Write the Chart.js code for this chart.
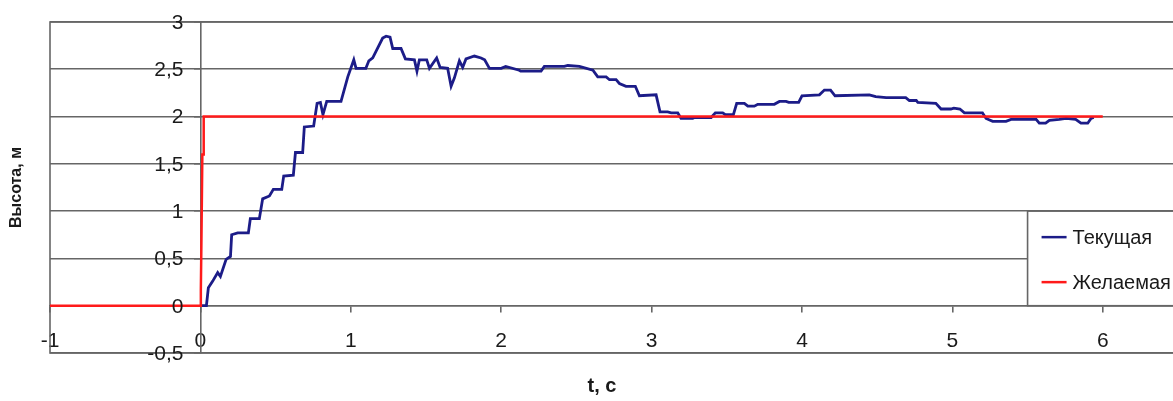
<!DOCTYPE html>
<html>
<head>
<meta charset="utf-8">
<script src="https://cdn.jsdelivr.net/npm/chart.js@4.4.0/dist/chart.umd.min.js"></script>
<style>
  html, body { margin: 0; padding: 0; background: #fff; overflow: hidden; }
  #wrap { width: 1276px; height: 401px; }
</style>
</head>
<body>
<div id="wrap"><canvas id="vysota" width="1276" height="401"></canvas></div>
<script>
// Текущая высота
var t_tekushaya = [0.01, 0.04, 0.053, 0.082, 0.115, 0.133, 0.171, 0.2, 0.208, 0.248, 0.319, 0.332, 0.392, 0.414, 0.459, 0.485, 0.541, 0.554, 0.618, 0.632, 0.68, 0.691, 0.753, 0.776, 0.798, 0.815, 0.84, 0.935, 0.98, 1.02, 1.035, 1.1, 1.12, 1.146, 1.212, 1.235, 1.261, 1.279, 1.334, 1.363, 1.423, 1.44, 1.456, 1.505, 1.523, 1.571, 1.594, 1.644, 1.667, 1.689, 1.722, 1.744, 1.766, 1.822, 1.866, 1.89, 1.922, 2.0, 2.03, 2.12, 2.13, 2.265, 2.287, 2.42, 2.443, 2.52, 2.61, 2.642, 2.698, 2.72, 2.764, 2.786, 2.83, 2.892, 2.919, 3.03, 3.056, 3.107, 3.13, 3.174, 3.196, 3.273, 3.285, 3.396, 3.424, 3.473, 3.49, 3.544, 3.566, 3.617, 3.64, 3.683, 3.706, 3.816, 3.85, 3.894, 3.912, 3.978, 4.0, 4.116, 4.149, 4.19, 4.22, 4.448, 4.49, 4.56, 4.69, 4.714, 4.76, 4.77, 4.89, 4.925, 4.99, 5.01, 5.05, 5.08, 5.2, 5.224, 5.268, 5.357, 5.39, 5.557, 5.578, 5.62, 5.645, 5.711, 5.756, 5.82, 5.855, 5.9, 5.922, 5.94]
var h_tekushaya = [0, 0, 0.19, 0.26, 0.35, 0.31, 0.49, 0.52, 0.75, 0.77, 0.77, 0.92, 0.92, 1.13, 1.16, 1.23, 1.23, 1.37, 1.38, 1.62, 1.62, 1.89, 1.9, 2.14, 2.15, 2.02, 2.16, 2.16, 2.42, 2.6, 2.51, 2.51, 2.59, 2.62, 2.83, 2.85, 2.84, 2.72, 2.72, 2.61, 2.6, 2.48, 2.6, 2.6, 2.51, 2.62, 2.52, 2.51, 2.32, 2.41, 2.59, 2.52, 2.61, 2.64, 2.62, 2.6, 2.51, 2.51, 2.53, 2.49, 2.48, 2.48, 2.53, 2.53, 2.54, 2.53, 2.49, 2.42, 2.42, 2.39, 2.39, 2.35, 2.32, 2.32, 2.22, 2.23, 2.05, 2.05, 2.04, 2.04, 1.98, 1.98, 1.99, 1.99, 2.04, 2.04, 2.02, 2.02, 2.14, 2.14, 2.11, 2.11, 2.13, 2.13, 2.16, 2.16, 2.15, 2.15, 2.22, 2.23, 2.28, 2.28, 2.22, 2.23, 2.21, 2.2, 2.2, 2.17, 2.17, 2.15, 2.14, 2.08, 2.08, 2.09, 2.08, 2.04, 2.04, 1.98, 1.95, 1.95, 1.97, 1.97, 1.93, 1.93, 1.96, 1.97, 1.98, 1.97, 1.93, 1.93, 1.98, 1.99]

// Желаемая высота
var t_zhelaemaya = [-1, 0, 0.003, 0.007, 0.01, 0.013, 0.018, 0.022, 6]
var h_zhelaemaya = [0, 0, 0.17, 0.7, 0.7, 1.6, 1.6, 2, 2]

var x_ticks = [-1, 0, 1, 2, 3, 4, 5, 6, 7]
var y_ticks = [-0.5, 0, 0.5, 1, 1.5, 2, 2.5, 3]
var nazvaniya = ['Текущая', 'Желаемая']
var cveta = ['#1c1c88', '#ff1a1a']

function tochki(tt, hh){
    var res = []
    for(let i = 0; i < tt.length; i++){
        res.push({x: tt[i], y: hh[i]})
    }
    return res
}

Chart.defaults.font.family = '"Liberation Sans", Arial, sans-serif';
Chart.defaults.color = '#1a1a1a';

const oformlenie = {
    id: 'oformlenie',
    beforeDatasetsDraw(chart){
        const {ctx, chartArea: a} = chart;
        ctx.save();
        ctx.strokeStyle = '#666';
        ctx.lineWidth = 1.6;
        ctx.strokeRect(a.left, a.top, a.right - a.left, a.bottom - a.top);
        ctx.restore();
    },
    afterDraw(chart){
        const {ctx, chartArea: a} = chart;
        const xs = chart.scales.x, ys = chart.scales.y;
        ctx.save();

        // подписи оси Y слева от оси (при position: {x: 0} отступ не работает)
        const x0 = xs.getPixelForValue(0);
        ctx.font = '21px "Liberation Sans", Arial, sans-serif';
        ctx.fillStyle = '#1a1a1a';
        ctx.textAlign = 'right';
        ctx.textBaseline = 'middle';
        y_ticks.forEach(function(v){
            ctx.fillText(String(v).replace('.', ','), x0 - 17, ys.getPixelForValue(v) + 1);
        });

        // легенда
        const l = xs.getPixelForValue(5.5), t = ys.getPixelForValue(1), b = ys.getPixelForValue(0);
        ctx.fillStyle = '#fff';
        ctx.fillRect(l, t, a.right - l, b - t);
        ctx.strokeStyle = '#666';
        ctx.lineWidth = 1.6;
        ctx.strokeRect(l, t, a.right - l, b - t);
        const rows = [t + 26, t + 71];
        ctx.font = '20px "Liberation Sans", Arial, sans-serif';
        ctx.textAlign = 'left';
        for(let i = 0; i < nazvaniya.length; i++){
            ctx.strokeStyle = cveta[i];
            ctx.lineWidth = 2.5;
            ctx.beginPath();
            ctx.moveTo(l + 14, rows[i]);
            ctx.lineTo(l + 39, rows[i]);
            ctx.stroke();
            ctx.fillStyle = '#1a1a1a';
            ctx.fillText(nazvaniya[i], l + 45, rows[i] + 1);
        }

        // подписи осей
        ctx.fillStyle = '#1a1a1a';
        ctx.textAlign = 'center';
        ctx.font = 'bold 20px "Liberation Sans", Arial, sans-serif';
        ctx.fillText('t, c', 602, 386);
        ctx.translate(17, (a.top + a.bottom) / 2);
        ctx.rotate(-Math.PI / 2);
        ctx.font = 'bold 16px "Liberation Sans", Arial, sans-serif';
        ctx.fillText('Высота, м', 0, 0);
        ctx.restore();
    }
};

const ctx = document.getElementById('vysota').getContext('2d');
const myChart = new Chart(ctx, {
    type: 'line',
    data: {
        datasets: [{
            label: nazvaniya[1],
            data: tochki(t_zhelaemaya, h_zhelaemaya),
            borderColor: cveta[1],
            borderWidth: 2.5,
            pointRadius: 0,
            tension: 0,
            fill: false
        }, {
            label: nazvaniya[0],
            data: tochki(t_tekushaya, h_tekushaya),
            borderColor: cveta[0],
            borderWidth: 2.8,
            pointRadius: 0,
            tension: 0,
            fill: false
        }]
    },
    options: {
        responsive: false,
        animation: false,
        events: [],
        layout: {
            padding: {left: 50, top: 22, right: 6, bottom: 48}
        },
        plugins: {
            legend: {display: false},
            tooltip: {enabled: false}
        },
        scales: {
            x: {
                type: 'linear',
                min: -1,
                max: 7,
                position: {y: 0},
                afterBuildTicks: function(scale){
                    scale.ticks = x_ticks.map(v => ({value: v}))
                },
                grid: {
                    drawOnChartArea: false,
                    drawTicks: true,
                    tickLength: 6,
                    color: '#666',
                    lineWidth: 1.6
                },
                border: {display: true, color: '#666', width: 1.6},
                ticks: {
                    font: {size: 21},
                    padding: 17,
                    maxRotation: 0,
                    autoSkip: false
                }
            },
            y: {
                type: 'linear',
                min: -0.5,
                max: 3,
                position: {x: 0},
                afterBuildTicks: function(scale){
                    scale.ticks = y_ticks.map(v => ({value: v}))
                },
                grid: {
                    drawOnChartArea: true,
                    drawTicks: true,
                    tickLength: 6,
                    color: '#666',
                    lineWidth: 1.6
                },
                border: {display: true, color: '#666', width: 1.6},
                ticks: {
                    display: false
                }
            }
        }
    },
    plugins: [oformlenie]
});
</script>
</body>
</html>
